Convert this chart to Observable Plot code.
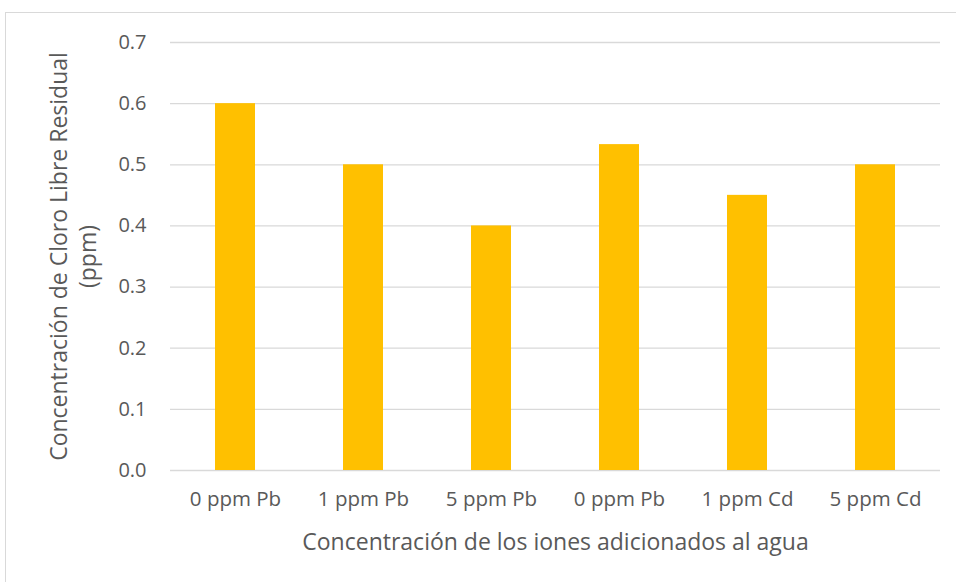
<!DOCTYPE html>
<html>
<head>
<meta charset="utf-8">
<script src="https://cdn.jsdelivr.net/npm/d3@7"></script>
<script src="https://cdn.jsdelivr.net/npm/@observablehq/plot@0.6"></script>
<style>
  html, body { margin: 0; padding: 0; background: #fff; overflow: hidden; }
  #wrap { position: relative; width: 956px; height: 582px; }
  #frame { position: absolute; left: 5px; top: 12px; width: 1000px; height: 620px; border: 1px solid #D9D9D9; box-sizing: border-box; }
  #chart { position: absolute; left: 0; top: 0; }
</style>
</head>
<body>
<div id="wrap"><div id="frame"></div><div id="chart"></div></div>
<script>
const categories = ["0 ppm Pb", "1 ppm Pb", "5 ppm Pb", "0 ppm Pb", "1 ppm Cd", "5 ppm Cd"];
const values = [0.6, 0.5, 0.4, 0.533, 0.45, 0.5];
const yTicks = [0, 0.1, 0.2, 0.3, 0.4, 0.5, 0.6, 0.7];
const yTitle = "Concentración de Cloro Libre Residual\n(ppm)";
const xTitle = "Concentración de los iones adicionados al agua";

const data = categories.map((c, i) => ({i, c, v: values[i]}));
const textColor = "#595959";
const font = "'Open Sans', sans-serif";

const chart = Plot.plot({
  width: 956,
  height: 582,
  marginLeft: 170,
  marginRight: 16,
  marginTop: 42,
  marginBottom: 112,
  style: {fontFamily: font, color: textColor, background: "transparent", overflow: "visible"},
  x: {domain: d3.range(categories.length), paddingInner: 0.69, paddingOuter: 0.345},
  y: {domain: [0, 0.7]},
  marks: [
    Plot.ruleY(yTicks, {stroke: "#D9D9D9", strokeWidth: 1.3}),
    Plot.barY(data, {x: "i", y: "v", fill: "#FFC000"}),
    Plot.axisY({ticks: yTicks, tickSize: 0, tickPadding: 24, tickFormat: d3.format(".1f"), fontSize: 20, label: null, fill: textColor}),
    Plot.axisX({tickSize: 0, tickPadding: 21, tickFormat: i => categories[i], fontSize: 20.5, label: null, fill: textColor}),
    Plot.text([yTitle], {frameAnchor: "left", dx: -98, rotate: -90, textAnchor: "middle", fontSize: 23, lineHeight: 1.22, fill: textColor}),
    Plot.text([xTitle], {frameAnchor: "bottom", dy: 79, fontSize: 23, fill: textColor})
  ]
});
document.getElementById("chart").appendChild(chart);
</script>
</body>
</html>
